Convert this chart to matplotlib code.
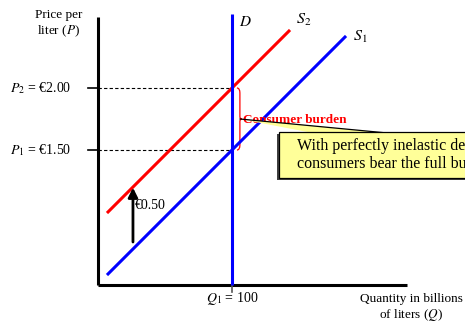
import matplotlib
matplotlib.use("Agg")
import matplotlib.pyplot as plt
from matplotlib.patches import Polygon, PathPatch, Rectangle
from matplotlib.path import Path

plt.rcParams['font.family'] = ['Liberation Serif', 'DejaVu Serif']
plt.rcParams['mathtext.fontset'] = 'stix'

# Market data
q1 = 100
p1 = 1.50
p2 = 2.00
tax = 0.50
s1_q = [7.5, 184.3]          # supply before tax, quantity range
s2_q = [7.5, 142.5]          # supply after tax, quantity range
demand_p = [0.411, 2.60]     # vertical demand, price range
slope = 1.34 / 124           # price change per unit of quantity

def supply(q, shift=0.0):
    return p1 + shift + (q - q1) * slope

fig = plt.figure(figsize=(4.65, 3.22), dpi=100)
ax = fig.add_axes([0, 0, 1, 1])
ax.set_xlim(-73.13, 273.88)
ax.set_ylim(0.1129, 2.7097)
ax.axis('off')

p_floor = 0.411
# axes
ax.plot([0, 0], [p_floor, 2.5726], color='black', lw=2.2, solid_capstyle='butt')
ax.plot([0, 230.6], [p_floor, p_floor], color='black', lw=2.2, solid_capstyle='butt')
# ticks
ax.plot([-7.5, 0], [p2, p2], color='black', lw=1.2)
ax.plot([-7.5, 0], [p1, p1], color='black', lw=1.2)
ax.plot([q1, q1], [p_floor, p_floor - 0.06], color='#555555', lw=1.2)

# dashed guides
ax.plot([0, q1], [p2, p2], color='black', lw=0.8, ls=(0, (3, 2)))
ax.plot([0, q1], [p1, p1], color='black', lw=0.8, ls=(0, (3, 2)))

# curves
ax.plot(s1_q, [supply(q) for q in s1_q], color='#0000ff', lw=2.2)
ax.plot(s2_q, [supply(q, tax) for q in s2_q], color='#ff0000', lw=2.2)
ax.plot([q1, q1], demand_p, color='#0000ff', lw=2.2, solid_capstyle='butt')

# tax arrow
ax.annotate('', xy=(26.1, supply(26.1, tax) - 0.005), xytext=(26.1, 0.758),
            arrowprops=dict(arrowstyle='-|>', color='black', lw=2.0,
                            mutation_scale=14, shrinkA=0, shrinkB=0))
ax.text(27.5, 1.056, '€0.50', fontsize=10, ha='left', va='center')

# labels
ax.text(105.5, 2.53, '$D$', fontsize=11, ha='left', va='center')
ax.text(148, 2.55, '$S_2$', fontsize=11.5, ha='left', va='center')
ax.text(190.5, 2.41, '$S_1$', fontsize=11.5, ha='left', va='center')

ax.text(-29.1, 2.516, 'Price per\nliter ($P$)', fontsize=9.5, ha='center', va='center',
        linespacing=1.2)
ax.text(-66, p2, '$P_2$ = €2.00', fontsize=10, ha='left', va='center')
ax.text(-66, p1, '$P_1$ = €1.50', fontsize=10, ha='left', va='center')
ax.text(q1, 0.30, '$Q_1$ = 100', fontsize=10, ha='center', va='center')
ax.text(233.6, 0.226, 'Quantity in billions\nof liters ($Q$)', fontsize=9.5,
        ha='center', va='center', linespacing=1.2)

# brace for consumer burden
bx = q1 + 3.7
tip = bx + 3.7
mid = (p1 + p2) / 2
verts = [(bx, p2), (bx + 2.2, p2), (bx + 2.2, p2 - 0.04),
         (bx + 2.2, mid + 0.02), (bx + 2.2, mid), (tip, mid),
         (bx + 2.2, mid), (bx + 2.2, mid - 0.02),
         (bx + 2.2, p1 + 0.04), (bx + 2.2, p1), (bx, p1)]
codes = [Path.MOVETO, Path.CURVE3, Path.CURVE3, Path.LINETO, Path.CURVE3, Path.CURVE3,
         Path.CURVE3, Path.CURVE3, Path.LINETO, Path.CURVE3, Path.CURVE3]
ax.add_patch(PathPatch(Path(verts, codes), fill=False, edgecolor='#ff0000', lw=0.9))
ax.text(tip + 0.5, mid - 0.01, 'Consumer burden', fontsize=9.5, color='#ff0000',
        fontweight='bold', ha='left', va='center')

# callout
box_bottom, box_top = 1.274, 1.645
ax.add_patch(Polygon([(q1 + 6, mid), (160.4, box_top - 0.008), (216, box_top - 0.008)],
                     closed=True, facecolor='#ffff99', edgecolor='none', zorder=4))
ax.plot([q1 + 6, 216], [mid, box_top - 0.008], color='black', lw=0.9, zorder=4)
ax.add_patch(Rectangle((133.6, box_bottom - 0.016), 150, box_top - box_bottom,
                       facecolor='#404040', edgecolor='none', zorder=4))
ax.add_patch(Rectangle((135.1, box_bottom), 150, box_top - box_bottom, facecolor='#ffff99',
                       edgecolor='black', lw=0.9, zorder=5))
ax.text(148.5, 1.46, 'With perfectly inelastic demand,\nconsumers bear the full burden',
        fontsize=11.5, ha='left', va='center', linespacing=1.15, zorder=6)

fig.savefig('out.png', dpi=100)
